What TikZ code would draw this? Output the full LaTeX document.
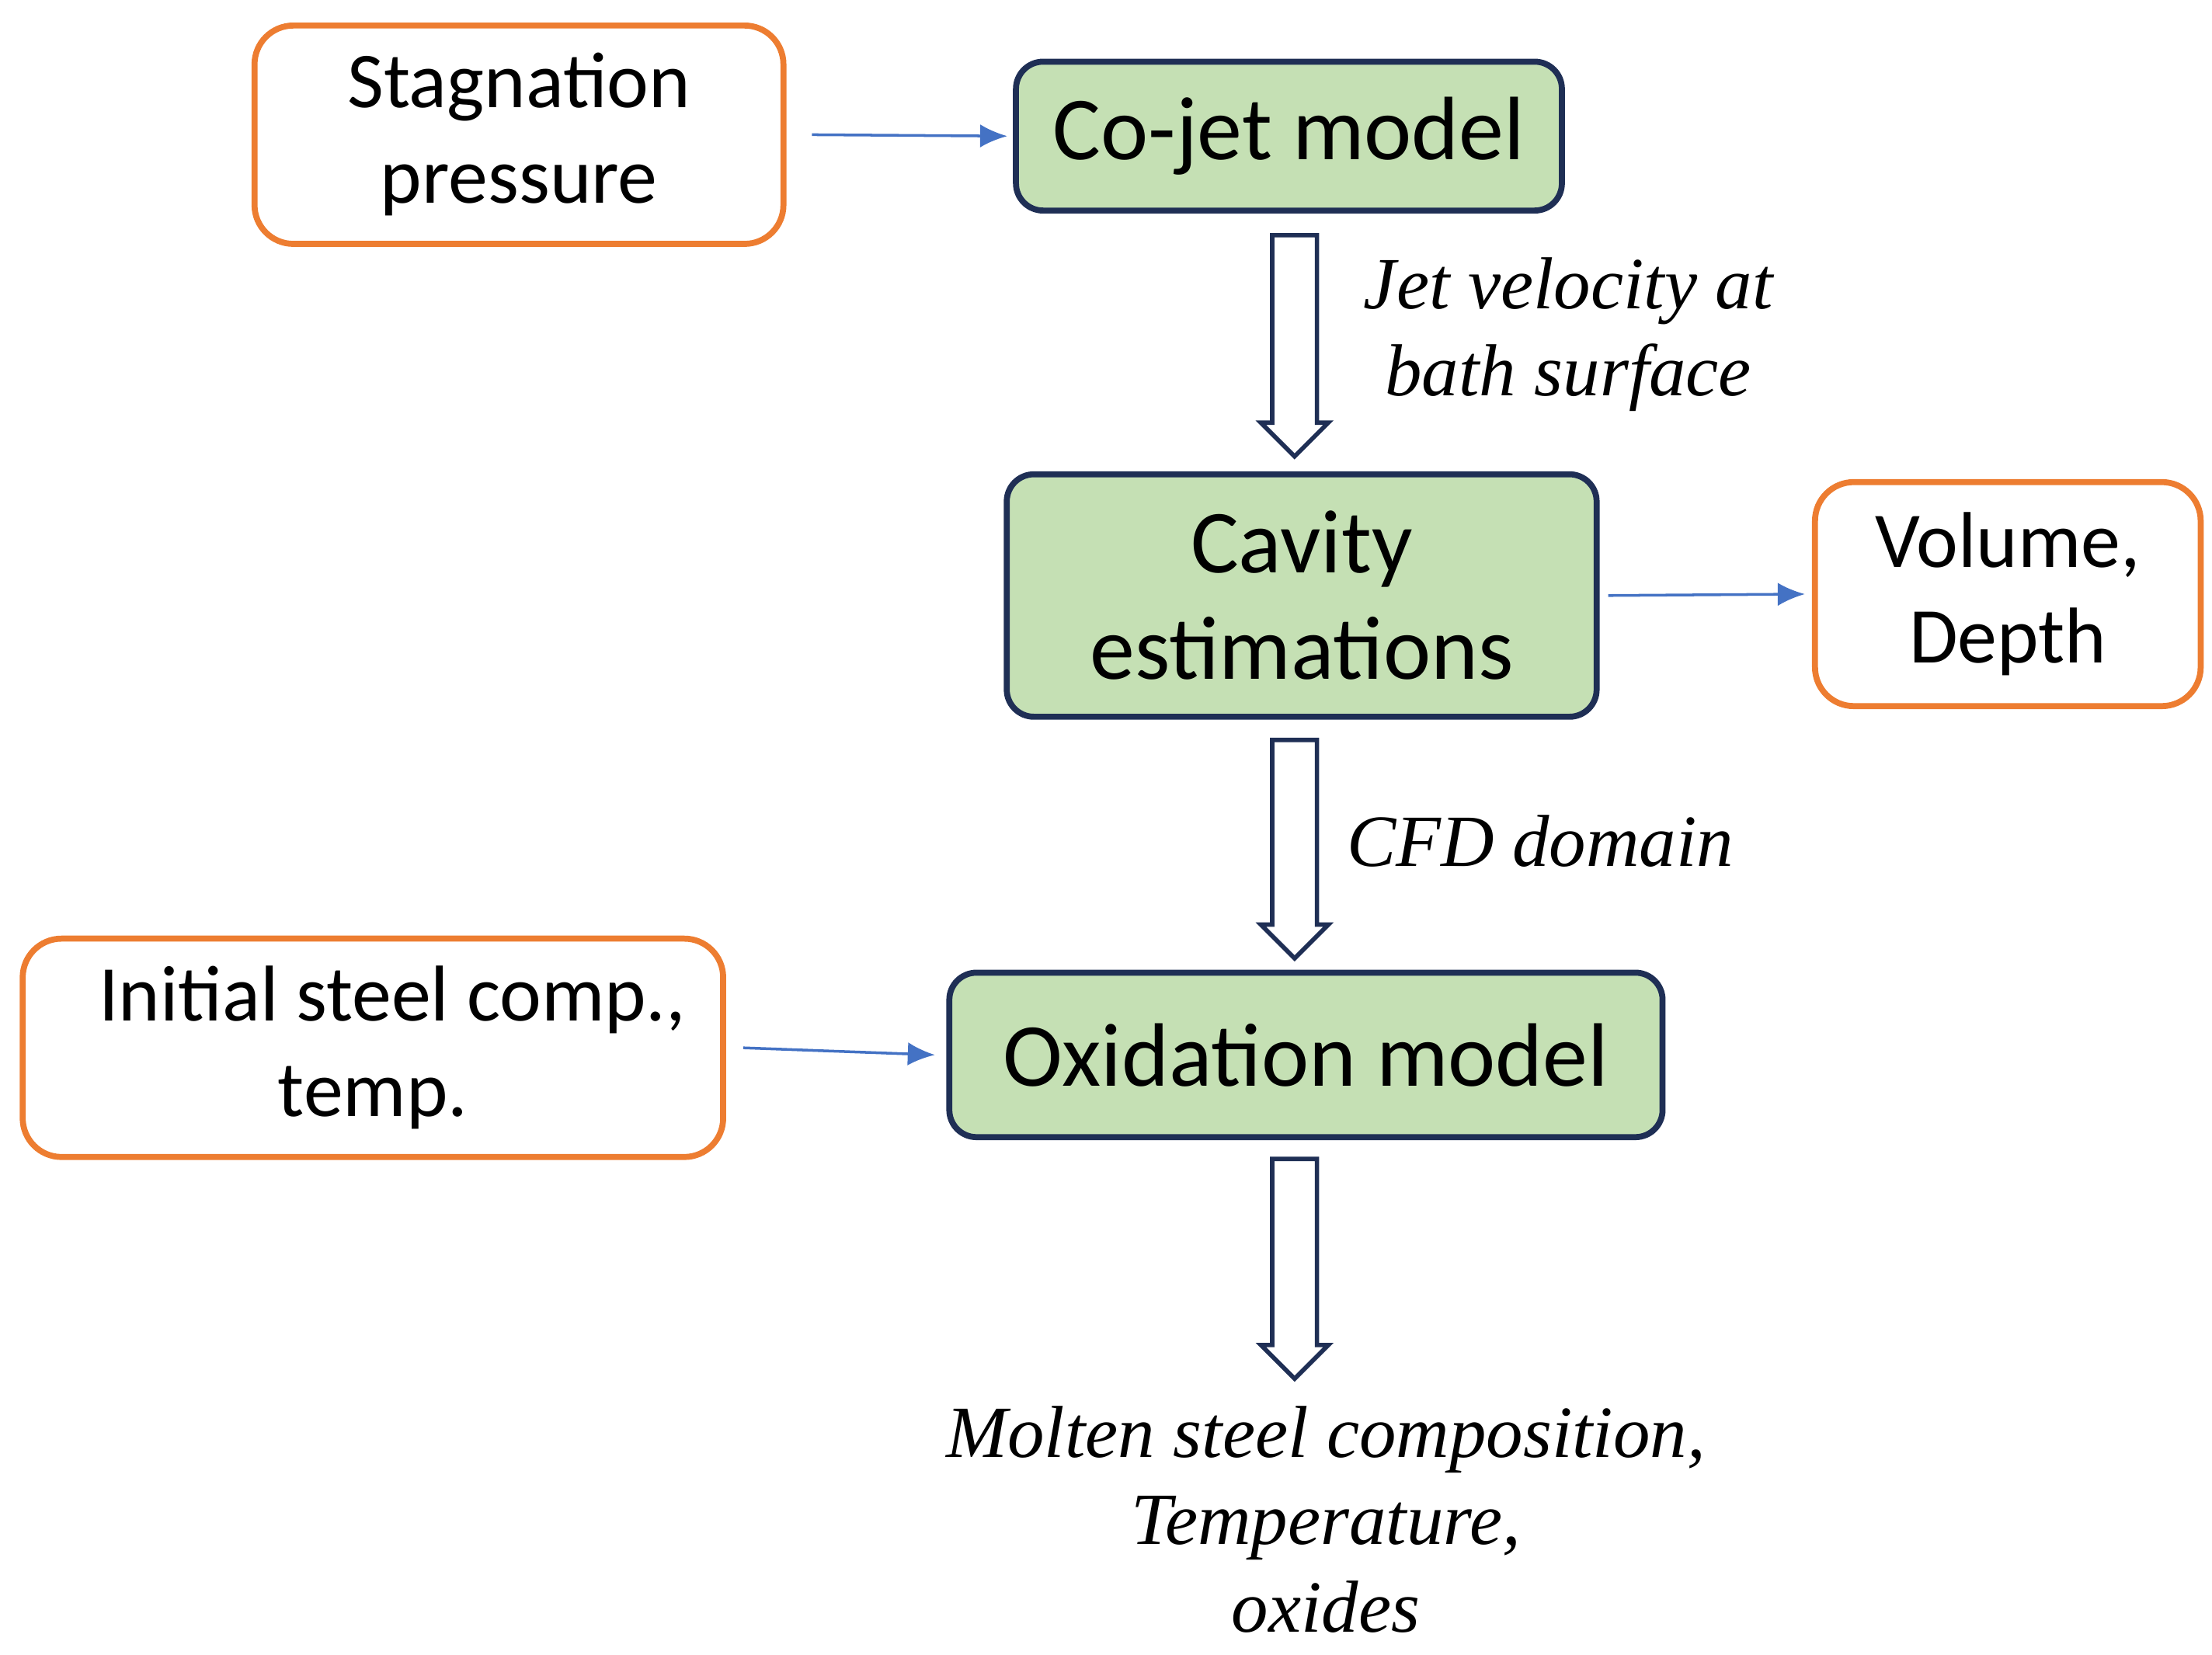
\documentclass[tikz,border=0pt]{standalone}
\usepackage{fontspec}
\setmainfont{Carlito}
\newfontfamily\ser{Liberation Serif}
\usetikzlibrary{shapes.arrows,arrows.meta,calc}
\definecolor{navy}{HTML}{1F2F55}
\definecolor{gfill}{HTML}{C5E0B4}
\definecolor{orng}{HTML}{ED7D31}
\definecolor{blu}{HTML}{4472C4}
\def\u{0.01826cm}
\begin{document}
\begin{tikzpicture}[x=\u,y=-\u,
  inbox/.style={draw=orng,line width=2.2pt,rounded corners=0.5cm,fill=white,align=center,font=\fontsize{29}{35}\selectfont},
  model/.style={draw=navy,line width=2.2pt,rounded corners=0.35cm,fill=gfill,align=center,font=\fontsize{33}{39}\selectfont},
  thin/.style={draw=blu,line width=1pt,-{Latex[length=0.35cm,width=0.3cm]}},
  hollow/.style={single arrow,draw=navy,line width=1.6pt,fill=white,rotate=-90,inner sep=0.26cm,minimum width={46*\u},single arrow head extend={8*\u},anchor=center},
  lab/.style={font=\ser\itshape\fontsize{27}{32}\selectfont,align=center}]
\useasboundingbox (0,0) rectangle (1560,1167);
\node[inbox,minimum width={373*\u},minimum height={154*\u}] (stag) at (366,95) {Stagnation\\pressure};
\node[model,minimum width={385*\u},minimum height={105*\u}] (cojet) at (909,96) {Co-jet model};
\node[model,minimum width={416*\u},minimum height={171*\u}] (cav) at (918,420) {Cavity\\estimations};
\node[inbox,minimum width={272*\u},minimum height={158*\u}] (vol) at (1416,419) {Volume,\\Depth};
\node[inbox,minimum width={494*\u},minimum height={154*\u}] (init) at (263,739) {\hspace*{0.5cm}Initial steel comp.,\\temp.};
\node[model,minimum width={503*\u},minimum height={116*\u}] (oxi) at (921,744) {Oxidation model};
\coordinate (outc) at (913,960);
\node[lab,anchor=north] (out) at (935,985) {Molten steel composition,\\Temperature,\\oxides};
\draw[thin] (stag.east)+(18,0) -- ([xshift=-4*\u]cojet.west);
\draw[thin] ([xshift=6*\u]cav.east) -- ([xshift=-5*\u]vol.west);
\draw[thin] ([xshift=12*\u]init.east) -- ([xshift=-8*\u]oxi.west);
\node[hollow,minimum height={156*\u}] (a1) at (913,236) {};
\node[hollow,minimum height={154*\u}] (a2) at (913,591) {};
\node[hollow,minimum height={155*\u}] (a3) at (913,887) {};
\node[lab,anchor=west] (l1) at (955,236) {Jet velocity at\\bath surface};
\node[lab,anchor=west] (l2) at (943,593) {CFD domain};
\end{tikzpicture}
\end{document}
